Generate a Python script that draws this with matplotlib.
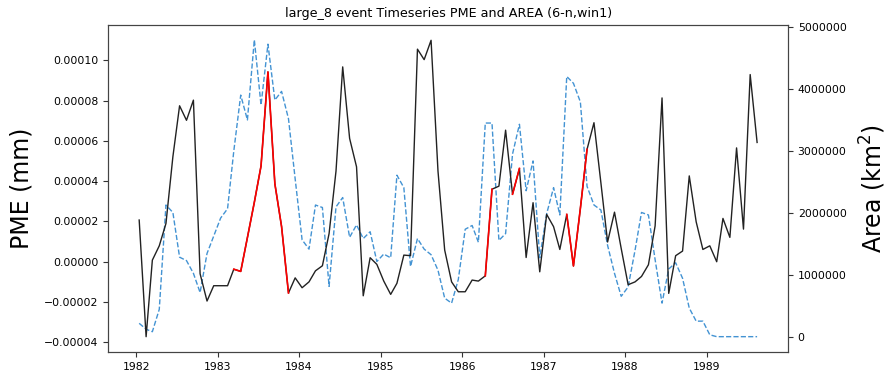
import numpy as np
import pandas as pd
import matplotlib
matplotlib.use("Agg")
import matplotlib.pyplot as plt
import matplotlib.dates as mdates
from matplotlib.ticker import ScalarFormatter

# ---- data ----
dates = pd.date_range("1982-01-01", periods=92, freq="MS") + pd.Timedelta(days=14)

pme_e5 = [2.07, -3.72, 0.08, 0.79, 1.90, 5.21, 7.74, 7.02, 8.02, -0.60,
          -1.95, -1.19, -1.19, -1.19, -0.37, -0.48, 1.2, 2.95, 4.75, 9.42,
          3.87, 1.75, -1.55, -0.80, -1.29, -1.00, -0.45, -0.20, 1.4, 4.5,
          9.67, 6.12, 4.71, -1.69, 0.20, -0.13, -0.96, -1.62, -1.07, 0.33,
          0.30, 10.55, 10.03, 10.99, 4.5, 0.58, -1.0, -1.49, -1.49, -0.91,
          -0.96, -0.70, 3.60, 3.75, 6.53, 3.35, 4.63, 0.21, 2.93, -0.50,
          2.35, 1.74, 0.61, 2.35, -0.21, 2.64, 5.58, 6.90, 3.92, 0.98,
          2.46, 0.66, -1.14, -1.0, -0.73, -0.15, 1.78, 8.13, -1.57, 0.30,
          0.53, 4.26, 1.98, 0.61, 0.79, 0.00, 2.15, 1.21, 5.65, 1.62,
          9.29, 5.92]

area_e6 = [0.225, 0.13, 0.09, 0.45, 2.13, 2.01, 1.29, 1.235, 1.03, 0.72,
           1.35, 1.63, 1.92, 2.07, 3.0, 3.90, 3.50, 4.79, 3.74, 4.72,
           3.82, 3.96, 3.52, 2.55, 1.57, 1.42, 2.13, 2.09, 0.82, 2.10,
           2.25, 1.61, 1.81, 1.59, 1.70, 1.22, 1.34, 1.28, 2.61, 2.41,
           1.14, 1.59, 1.42, 1.33, 1.08, 0.63, 0.55, 0.93, 1.74, 1.80,
           1.53, 3.45, 3.45, 1.56, 1.67, 2.95, 3.43, 2.36, 2.84, 1.28,
           1.99, 2.41, 1.97, 4.20, 4.09, 3.79, 2.43, 2.13, 2.05, 1.48,
           1.03, 0.66, 0.81, 1.40, 2.01, 1.97, 1.25, 0.55, 1.10, 1.20,
           0.95, 0.47, 0.26, 0.26, 0.04, 0.01, 0.01, 0.01, 0.01, 0.01,
           0.01, 0.01]

# event periods (index ranges, inclusive) drawn in red
events = [(14, 22), (51, 52), (55, 56), (63, 66)]

title = "large_8 event Timeseries PME and AREA (6-n,win1)"
left_label = "PME (mm)"
right_label = "Area (km$^2$)"

pme = np.array(pme_e5) * 1e-5
area = np.array(area_e6) * 1e6

fig = plt.figure(figsize=(8.92, 3.74), dpi=100)
ax = fig.add_axes([0.1214, 0.0588, 0.7620, 0.8744])
ax2 = ax.twinx()

ax.plot(dates, pme, color="#222222", lw=1.0, zorder=3)
for s, e in events:
    ax.plot(dates[s:e + 1], pme[s:e + 1], color="red", lw=1.2, zorder=4)

ax2.plot(dates, area, color="#4393d3", lw=1.0, ls="--", zorder=2)

ax.set_zorder(ax2.get_zorder() + 1)
ax.patch.set_visible(False)

ax.set_ylim(-4.48e-5, 11.75e-5)
ax2.set_ylim(-0.237e6, 5.029e6)

ax.xaxis.set_major_locator(mdates.YearLocator())
ax.xaxis.set_major_formatter(mdates.DateFormatter("%Y"))

fmt = ScalarFormatter(useOffset=False)
fmt.set_scientific(False)
ax2.yaxis.set_major_formatter(fmt)
ax2.set_yticks([0, 1000000, 2000000, 3000000, 4000000, 5000000])

for a in (ax, ax2):
    a.tick_params(labelsize=7.8, color="#333333")
    for sp in a.spines.values():
        sp.set_color("#444444")

ax.set_title(title, fontsize=9.2)
ax.set_ylabel(left_label, fontsize=17, labelpad=8)
ax2.set_ylabel(right_label, fontsize=17, labelpad=8)

fig.savefig("out.png", dpi=100)
